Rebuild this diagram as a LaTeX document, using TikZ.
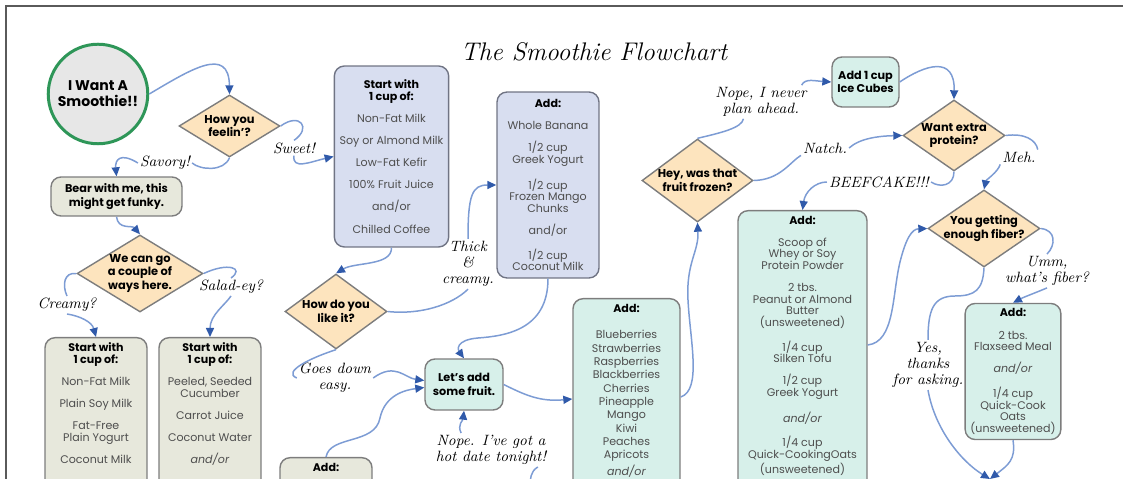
\documentclass[tikz,border=0pt]{standalone}
\usepackage{fontspec}
\newfontfamily\boxfont{Poppins}
\usetikzlibrary{arrows.meta,calc,shapes.geometric}

\definecolor{framegray}{RGB}{90,90,90}
\definecolor{edgegray}{RGB}{125,125,125}
\definecolor{lavedge}{RGB}{112,116,132}
\definecolor{bodygray}{RGB}{78,78,78}
\definecolor{startgreen}{RGB}{46,150,88}
\definecolor{startfill}{RGB}{231,231,231}
\definecolor{peach}{RGB}{253,228,190}
\definecolor{beige}{RGB}{231,232,220}
\definecolor{lavender}{RGB}{216,222,240}
\definecolor{mint}{RGB}{215,240,234}
\definecolor{linkblue}{RGB}{125,156,212}
\definecolor{tipblue}{RGB}{48,90,170}

\newcommand\boxhead[1]{\textcolor{black}{\bfseries #1}}

\begin{document}
\begin{tikzpicture}[x=0.02cm,y=-0.02cm,
    box/.style={rectangle,rounded corners=2mm,draw=edgegray,line width=0.8pt,
      align=center,inner sep=3pt,text=bodygray,
      font=\boxfont\fontsize{6.3}{6.6}\selectfont},
    openbox/.style={box,anchor=north,text depth=6cm},
    strong/.style={text=black,font=\boxfont\bfseries\fontsize{6.4}{7.6}\selectfont},
    lavbox/.style={box,fill=lavender,draw=lavedge},
    decision/.style={diamond,draw=edgegray,fill=peach,line width=0.8pt,inner sep=0pt},
    ask/.style={align=center,font=\boxfont\bfseries\fontsize{6.5}{7.7}\selectfont},
    hand/.style={align=center,inner sep=1pt,font=\rmfamily\itshape\fontsize{8.5}{9.3}\selectfont},
    flowline/.style={draw=linkblue,line width=0.85pt},
    flow/.style={flowline,-{Triangle[length=1.8mm,width=1.6mm,color=tipblue]}}]
  \useasboundingbox (0,0) rectangle (1123,479);
  \clip (0,0) rectangle (1123,479);
  \draw[framegray,line width=1.3pt] (6,490) |- (1130,6);

  \node[font=\rmfamily\itshape\fontsize{14.5}{14.5}\selectfont] (title) at (594,52) {The Smoothie Flowchart};

  % left column
  \node[circle,draw=startgreen,fill=startfill,line width=1.7pt,minimum size=1.78cm,
    align=center,font=\boxfont\bfseries\fontsize{8}{9.2}\selectfont] (start) at (98,94) {I Want A\\Smoothie!!};
  \node[decision,minimum width=2.02cm,minimum height=1.24cm,
    label={[ask]center:{How you\\feelin’?}}] (feel) at (229.5,126) {};
  \node[box,strong,fill=beige,minimum width=2.62cm,minimum height=0.78cm] (bear) at (116.5,196.5)
    {Bear with me, this\\might get funky.};
  \node[decision,minimum width=2.52cm,minimum height=1.54cm,
    label={[ask]center:{We can go\\a couple of\\ways here.}}] (ways) at (140,273.5) {};
  \node[openbox,fill=beige,minimum width=2.04cm] (creamybox) at (96,337)
    {\boxhead{Start with}\\\boxhead{1 cup of:}\\[6pt]Non-Fat Milk\\[6pt]Plain Soy Milk\\[6pt]Fat-Free\\Plain Yogurt\\[6pt]Coconut Milk};
  \node[openbox,fill=beige,minimum width=2.04cm] (saladbox) at (210,337)
    {\boxhead{Start with}\\\boxhead{1 cup of:}\\[6pt]Peeled, Seeded\\Cucumber\\[6pt]Carrot Juice\\[6pt]Coconut Water\\[6pt]\textit{and/or}};

  % sweet side
  \node[lavbox,minimum width=2.22cm,minimum height=3.62cm] (milkbox) at (391.5,156.5)
    {\boxhead{Start with}\\\boxhead{1 cup of:}\\[6pt]Non-Fat Milk\\[6pt]Soy or Almond Milk\\[6pt]Low-Fat Kefir\\[6pt]100\% Fruit Juice\\[6pt]and/or\\[6pt]Chilled Coffee};
  \node[lavbox,minimum width=2.04cm,minimum height=3.72cm] (addbox) at (548,185)
    {\boxhead{Add:}\\[6pt]Whole Banana\\[6pt]1/2 cup\\Greek Yogurt\\[6pt]1/2 cup\\Frozen Mango\\Chunks\\[6pt]and/or\\[6pt]1/2 cup\\Coconut Milk};
  \node[decision,minimum width=2.04cm,minimum height=1.5cm,
    label={[ask]center:{How do you\\like it?}}] (like) at (336,311.5) {};
  \node[box,strong,fill=mint,minimum width=1.56cm,minimum height=1.02cm] (letsadd) at (464,384.5)
    {Let’s add\\some fruit.};
  \node[openbox,fill=beige,minimum width=1.84cm] (bottomadd) at (326,457) {\boxhead{Add:}};
  \node[openbox,fill=mint,minimum width=2.14cm] (fruitbox) at (626.5,298)
    {\boxhead{Add:}\\[8.5pt]Blueberries\\[1pt]Strawberries\\[1pt]Raspberries\\[1pt]Blackberries\\[1pt]Cherries\\[1pt]Pineapple\\[1pt]Mango\\[1pt]Kiwi\\[1pt]Peaches\\[1pt]Apricots\\[1pt]\textit{and/or}};

  % right side
  \node[decision,minimum width=2.22cm,minimum height=1.66cm,
    label={[ask]center:{Hey, was that\\fruit frozen?}}] (frozen) at (697.5,180.5) {};
  \node[box,strong,fill=mint,minimum width=1.26cm,minimum height=1.0cm] (ice) at (865.5,82)
    {Add 1 cup\\Ice Cubes};
  \node[decision,minimum width=2.04cm,minimum height=1.42cm,
    label={[ask]center:{Want extra\\protein?}}] (protq) at (954,135.5) {};
  \node[openbox,fill=mint,minimum width=2.58cm] (protbox) at (802.5,210)
    {\boxhead{Add:}\\[6pt]Scoop of\\Whey or Soy\\Protein Powder\\[6pt]2 tbs.\\Peanut or Almond\\Butter\\(unsweetened)\\[6pt]1/4 cup\\Silken Tofu\\[6pt]1/2 cup\\Greek Yogurt\\[6pt]\textit{and/or}\\[6pt]1/4 cup\\Quick-CookingOats\\(unsweetened)};
  \node[decision,minimum width=2.24cm,minimum height=1.54cm,
    label={[ask]center:{You getting\\enough fiber?}}] (fiberq) at (984,228.5) {};
  \node[box,fill=mint,minimum width=1.84cm,minimum height=2.66cm] (fiberbox) at (1013,371.5)
    {\boxhead{Add:}\\[6pt]2 tbs.\\Flaxseed Meal\\[6pt]\textit{and/or}\\[6pt]1/4 cup\\Quick-Cook\\Oats\\(unsweetened)};

  % handwritten answers
  \node[hand] (sweet) at (294,148) {Sweet!};
  \node[hand] (savory) at (165,163) {Savory!};
  \node[hand] (creamy) at (67,305) {Creamy?};
  \node[hand] (saladey) at (231,287) {Salad-ey?};
  \node[hand] (thick) at (468,264) {Thick\\\&\\creamy.};
  \node[hand] (easy) at (335,378) {Goes down\\easy.};
  \node[hand] (hotdate) at (491,450) {Nope. I’ve got a\\hot date tonight!};
  \node[hand] (nope) at (761,102) {Nope, I never\\plan ahead.};
  \node[hand] (natch) at (825,148) {Natch.};
  \node[hand] (beef) at (879,182) {BEEFCAKE!!!};
  \node[hand] (meh) at (1019,157) {Meh.};
  \node[hand] (umm) at (1047,271) {Umm,\\what’s fiber?};
  \node[hand] (yes) at (928,365) {Yes,\\thanks\\for asking.};
  \coordinate (offpage) at (531,490);
  \coordinate (nextstep) at (990,479);

  % connectors
  \draw[flow] (start.east) .. controls (190,70) and (229,45) .. (feel.north);
  \draw[flowline] (feel.east) .. controls (300,112) and (312,128) .. (sweet.north);
  \draw[flow] (sweet.south) .. controls (292,170) and (310,162) .. (milkbox.west);
  \draw[flowline] (feel.south) .. controls (224,172) and (200,170) .. (savory.east);
  \draw[flow] (savory.west) .. controls (120,152) and (115,160) .. (bear.north);
  \draw[flow] (bear.south) .. controls (118,230) and (132,225) .. (ways.north);
  \draw[flowline] (ways.west) .. controls (64,272) and (62,285) .. (creamy.north);
  \draw[flow] (creamy.south) .. controls (80,316) and (92,322) .. (creamybox.north);
  \draw[flowline] (ways.east) .. controls (228,262) and (245,268) .. (saladey.north);
  \draw[flow] (saladey.south) .. controls (225,305) and (210,315) .. (saladbox.north);

  \draw[flow] (milkbox.south) .. controls (392,266) and (355,262) .. (like.north);
  \draw[flowline] (like.east) .. controls (420,315) and (452,305) .. (thick.south);
  \draw[flow] (thick.north) .. controls (468,195) and (472,185) .. (addbox.west);
  \draw[flowline] (like.south) .. controls (310,358) and (282,372) .. (easy.west);
  \draw[flow] (easy.east) .. controls (395,362) and (405,378) .. ($(letsadd.west)+(0,-4)$);
  \draw[flow] (addbox.south) .. controls (548,330) and (505,336) .. (478,338)
    .. controls (455,340) and (458,350) .. (letsadd.north);
  \draw[flow] (bottomadd.north) .. controls (330,435) and (375,445) .. (380,418)
    .. controls (385,395) and (405,390) .. ($(letsadd.west)+(0,3)$);
  \draw[flow] ([xshift=-17pt]hotdate.north) .. controls (457,425) and (463,420) .. (letsadd.south);
  \draw[flowline] ([xshift=-6pt]hotdate.south east) .. controls (530,472) and (530,478) .. (offpage);
  \draw[flow] (letsadd.east) .. controls (525,395) and (540,402) .. ($(fruitbox.north west)+(0,101)$);
  \draw[flow] ($(fruitbox.north east)+(0,99)$) .. controls (702,390) and (690,340) .. (688,300)
    .. controls (686,262) and (699,252) .. (frozen.south);

  \draw[flowline] (frozen.north) .. controls (720,133) and (742,128) .. ([xshift=-10pt]nope.south);
  \draw[flow] ([xshift=-4pt]nope.north east) .. controls (805,78) and (815,81) .. (ice.west);
  \draw[flowline] (frozen.east) .. controls (780,180) and (790,162) .. (natch.south west);
  \draw[flow] (natch.east) .. controls (860,138) and (880,136) .. (protq.west);
  \draw[flow] (ice.east) .. controls (925,65) and (955,55) .. (protq.north);
  \draw[flowline] (protq.south) .. controls (954,186) and (940,188) .. (beef.east);
  \draw[flow] (beef.west) .. controls (815,182) and (805,192) .. (protbox.north);
  \draw[flowline] (protq.east) .. controls (1025,133) and (1036,140) .. (meh.north east);
  \draw[flow] (meh.south west) .. controls (998,172) and (986,180) .. (fiberq.north);
  \draw[flow] ($(protbox.north east)+(0,135)$) .. controls (895,342) and (892,295) .. (900,262)
    .. controls (906,238) and (912,229) .. (fiberq.west);
  \draw[flowline] (fiberq.east) .. controls (1056,230) and (1056,245) .. (umm.north);
  \draw[flow] (umm.south) .. controls (1035,293) and (1024,297) .. (fiberbox.north);
  \draw[flowline] (fiberq.south) .. controls (983,290) and (975,296) .. (955,296)
    .. controls (933,296) and (928,310) .. (yes.north);
  \draw[flow] (yes.south) .. controls (935,430) and (962,462) .. (nextstep);
  \draw[flow] (fiberbox.south) .. controls (1016,460) and (1008,465) .. (nextstep);
\end{tikzpicture}
\end{document}
